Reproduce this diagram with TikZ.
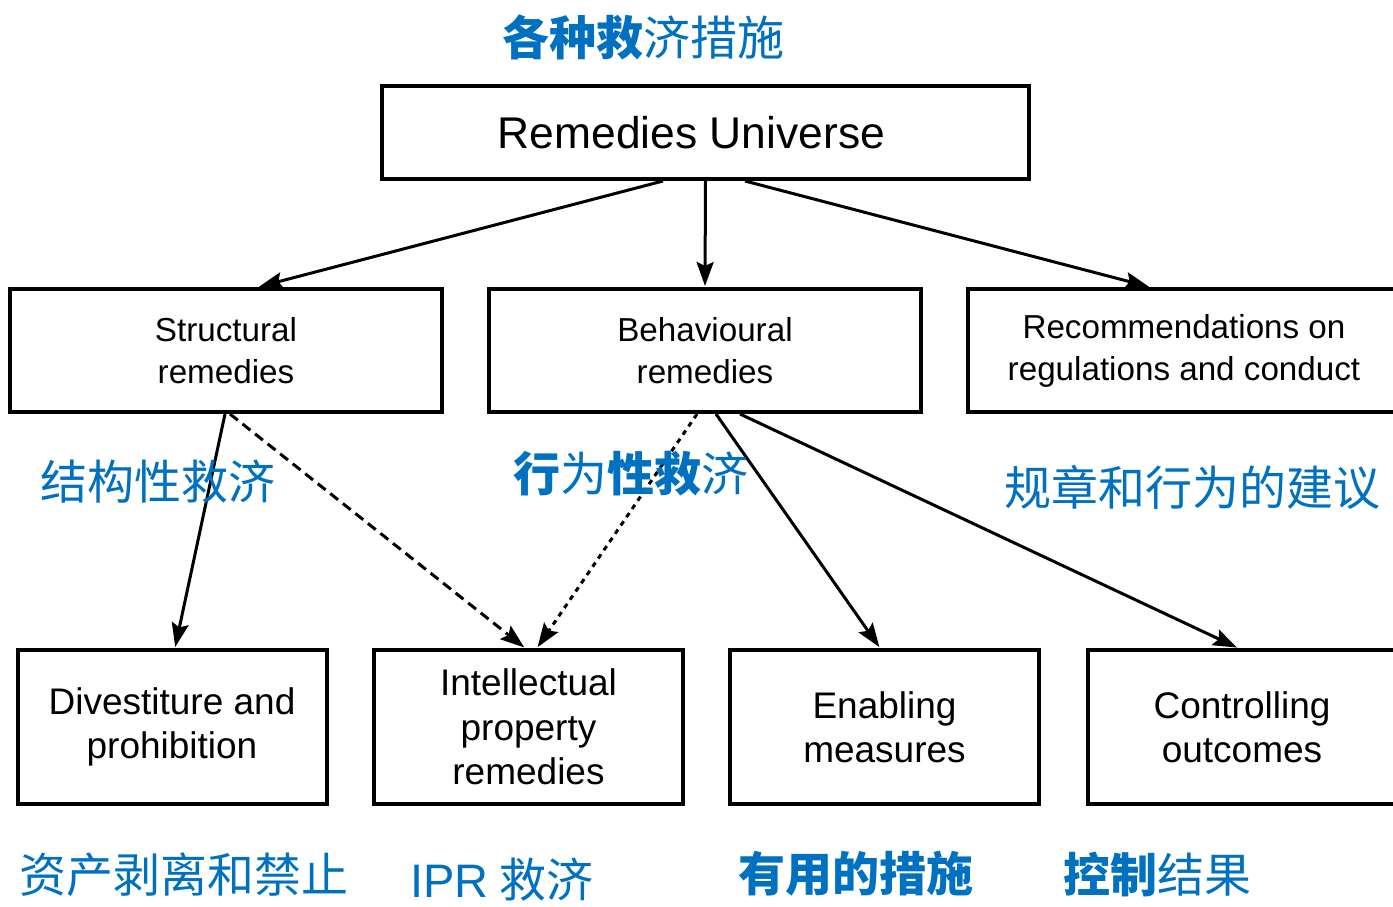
\documentclass[tikz,border=0pt]{standalone}
\usepackage{fontspec}
\setmainfont{Liberation Sans}
\newfontfamily\cjk{Noto Sans CJK SC}
\usetikzlibrary{arrows.meta}
\definecolor{cnblue}{RGB}{0,112,192}

\begin{document}
\begin{tikzpicture}[x=0.5pt, y=-0.5pt,
  box/.style={draw, line width=2pt, inner sep=0pt, align=center},
  topbox/.style={box, minimum width=323.5pt, minimum height=46.5pt, font=\fontsize{22.2}{26}\selectfont},
  midbox/.style={box, minimum width=216pt, minimum height=61.5pt, font=\fontsize{16.6}{21}\selectfont},
  lowbox/.style={box, minimum width=154.5pt, minimum height=77pt, font=\fontsize{18.5}{22.2}\selectfont},
  link/.style={-{Stealth[length=12pt, width=8.5pt, inset=2pt]}, line width=1.5pt, shorten >=0.5pt},
  cn/.style={text=cnblue, inner sep=0pt, font=\cjk\fontsize{23.5}{28}\selectfont}]

  % Fix the page size
  \useasboundingbox (0,0) rectangle (1393,906);

  % Draw the boxes
  \node[topbox] (uni) at (705.5,132.5) {Remedies Universe\hspace*{14pt}};

  \node[midbox] (str) at (226,350.5) {Structural\\remedies};
  \node[midbox] (beh) at (705,350.5) {Behavioural\\remedies};
  \node[midbox] (rec) at (1184,350.5) {Recommendations on\\regulations and conduct};

  \node[lowbox] (div) at (172,727) {Divestiture and\\prohibition};
  \node[lowbox] (ipr) at (528.5,727) {Intellectual\\property\\remedies};
  \node[lowbox] (ena) at (884.5,727) {Enabling\\measures};
  \node[lowbox] (con) at (1242,727) {Controlling\\outcomes};

  % Draw the arrows
  \draw[link] ([xshift=-21.25pt]uni.south) -- ([xshift=16pt]str.north);
  \draw[link] (uni.south) -- (beh.north);
  \draw[link] ([xshift=19.75pt]uni.south) -- ([xshift=-17pt]rec.north);

  \draw[link] ([xshift=-0.5pt]str.south) -- ([xshift=1.5pt]div.north);
  \draw[link, dash pattern=on 5pt off 3pt] ([xshift=2pt]str.south) -- ([xshift=-1.75pt]ipr.north);
  \draw[link, dash pattern=on 2.5pt off 2.5pt] ([xshift=-4pt]beh.south) -- ([xshift=4.25pt]ipr.north);
  \draw[link] ([xshift=5.5pt]beh.south) -- ([xshift=-2.25pt]ena.north);
  \draw[link] ([xshift=17.5pt]beh.south) -- ([xshift=-2pt]con.north);

  % Add the Chinese labels
  \node[cn] (title) at (643,37) {{\bfseries 各种救}济措施};
  \node[cn] (strcn) at (158,482) {结构性救济};
  \node[cn] (behcn) at (631,474) {{\bfseries 行}为{\bfseries 性救}济};
  \node[cn] (reccn) at (1192,487) {规章和行为的建议};
  \node[cn] (divcn) at (184,875) {资产剥离和禁止};
  \node[cn] (iprcn) at (502,880) {{\rmfamily IPR} 救济};
  \node[cn] (enacn) at (856,874) {\bfseries 有用的措施};
  \node[cn] (concn) at (1157,874) {{\bfseries 控制}结果};

\end{tikzpicture}
\end{document}
